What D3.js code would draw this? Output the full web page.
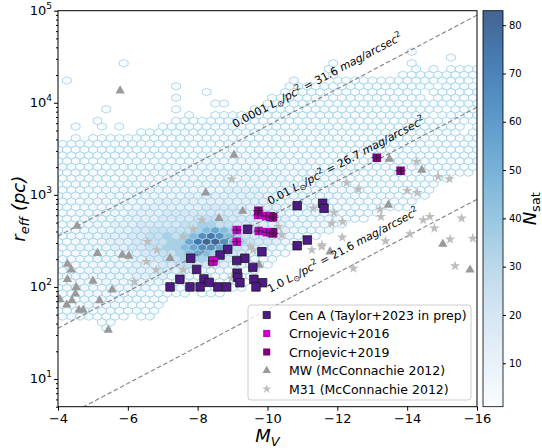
<!DOCTYPE html>
<html>
<head>
<meta charset="UTF-8">
<title>Satellite sizes</title>
<script src="https://d3js.org/d3.v7.min.js"></script>
<style>
body { margin: 0; background: #fff; }
text { font-family: 'DejaVu Sans', sans-serif; fill: #000; }
</style>
</head>
<body>
<script>

// axes
var mvTicks = [-4, -6, -8, -10, -12, -14, -16];
var reffTicks = [10, 100, 1000, 10000, 100000];
var nsatTicks = [10, 20, 30, 40, 50, 60, 70, 80];
var nsatRange = [1, 83];

// observed satellites (M_V, r_eff in pc)
var cenaMv = [-10.85,-11.58,-11.62,-10.09,-9.43,-10.14,-11.14,-10.85,-8.86,-9.84,-8.64,-7.80,-9.35,-9.12,-8.43,-7.97,-9.58,-9.13,-7.49,-8.18,-9.15,-9.61,-8.33,-9.21,-9.86,-7.21,-7.78,-8.07,-8.58,-8.83,-9.67];
var cenaReff = [762,809,714,579,423,388,323,280,256,241,222,205,205,193,191,155,163,141,121,122,127,121,112,111,111,100,100,100,100,100,100];

var crn16Mv = [-9.12,-9.12,-9.73,-9.96,-9.75,-9.98,-8.45];
var crn16Reff = [415,310,604,589,405,392,191];

var crn19Mv = [-9.74,-10.16,-10.16,-13.13,-13.81];
var crn19Reff = [673,570,382,2530,1828];

var mwMv = [-5.78,-9.04,-8.23,-8.61,-9.29,-7.21,-9.76,-11.79,-13.49,-14.42,-13.46,-15.02,-15.80,-4.55,-5.13,-5.84,-6.03,-4.27,-4.38,-4.27,-5.00,-4.52,-5.55,-4.50,-4.05,-4.40,-5.19,-4.25,-4.60,-4.72,-5.44];
var mwReff = [13520,2710,1055,556,667,205,173,241,2450,1862,776,292,153,459,232,222,217,177,153,121,116,99,93,84,73,71,71,64,56,56,34];

var m31Mv = [-14.27,-14.89,-15.21,-12.27,-12.60,-14.00,-14.29,-13.22,-13.25,-12.15,-14.46,-14.65,-15.56,-14.78,-14.08,-12.14,-13.38,-11.56,-15.23,-15.88,-12.46,-8.97,-8.12,-7.87,-7.59,-6.83,-6.81,-7.59,-8.40,-8.97,-9.50,-9.59,-10.31,-10.41,-11.31,-11.90,-11.84,-11.55,-11.27,-6.56,-6.53,-6.18,-15.37];
var m31Reff = [2291,1574,1486,1355,1148,1109,1055,697,579,511,533,579,556,433,376,346,315,285,329,337,159,1476,533,423,351,252,153,153,173,124,274,252,451,366,714,640,491,274,252,310,188,114,169];

var legendLabels = ['Cen A (Taylor+2023 in prep)', 'Crnojevic+2016', 'Crnojevic+2019', 'MW (McConnachie 2012)', 'M31 (McConnachie 2012)'];

// constant surface brightness lines
var sbSigma = [0.0001, 0.01, 1.0];
var sbSigmaText = ['0.0001', '0.01', '1.0'];
var sbMu = ['31.6', '26.7', '21.6'];
var sbLabelMv = [-9.07, -10.07, -10.07];
var sbLabelReff = [5320, 776, 86];

// simulated satellites, hexbin counts
// grid: column step in M_V, row step in log r_eff (rows alternate half a column)
var hexMv0 = -3.881, hexStepMv = 0.25, hexLogR0 = 1.4915, hexStepLogR = 0.125;
var hexLevels = '123456789abcd';
var hexLevelCounts = [1, 2, 4, 7, 12, 18, 25, 35, 45, 55, 65, 75, 83];
// [row, cells from column 0], '.' = empty
var hexRows = [
  [1, '......1'],
  [2, '.....11'],
  [3, '121111211.11'],
  [4, '122222222111'],
  [5, '1222233322111'],
  [6, '1223333332221'],
  [7, '1223333333322211.111'],
  [8, '1223333444433222221111'],
  [9, '12333344444443333222111'],
  [10, '12333444455554443332221'],
  [11, '123334444555665544433221'],
  [12, '1233344445556677665544321'],
  [13, '12333444455667788877655432'],
  [14, '1233444455667789a9876655432'],
  [15, '1234444556677889abba97665432'],
  [16, '123444555667788acddb987665432'],
  [17, '12334455566778789bcb98766554332'],
  [18, '123344455667777789a9877665544332'],
  [19, '1233344555666667788776665554443322'],
  [20, '123334445555666677776665555444433221'],
  [21, '12233344455556666666665555544443333221'],
  [22, '12233334445555555666655555444443333322211'],
  [23, '122233334444555555555555544444433333222111'],
  [24, '1122233334444445555555554444443333322221111'],
  [25, '11222233334444444444555544444333333222221111'],
  [26, '11222223333334444444444444443333332222221111'],
  [27, '1112222223333333444444444443333333222222211111'],
  [28, '111122222223333333344444443333333322222221111111'],
  [29, '1111222222223333333333333333333222222222211111111'],
  [30, '1111122222222222333333333333332222222222221111111'],
  [31, '1111112222222222222233333332222222222222221111111'],
  [32, '1111111222222222222222222222222222222222211111111'],
  [33, '1111111112222222222222222222222222222211111111111'],
  [34, '..1.111111111111122222222222222221111111111111111'],
  [35, '..........1111111111222222222222111111111111111.1'],
  [36, '..1..1.1....11111111111111122222211111111111111.1'],
  [37, '.....1........1111111111111111111111111111111.111'],
  [38, '...............1..1111111111111111111111111.11111'],
  [39, '......1.......1........1111111111111111111111.111'],
  [40, '..................11....1111111111111111111111111'],
  [41, '..............1..........111111111111111111.11111'],
  [42, '.................1........1111111111111111.111111'],
  [43, '..............1............11111111111111111.1111'],
  [44, '.1.........................1....1111111111111111.'],
  [45, '................................1.......111111111'],
  [46, '...............................1.........1.1.1111'],
  [47, '........1.......................1........1.......'],
  [48, '.............................................1...'],
  [49, '.........................................1.......']
];

var width = 542, height = 448;
var pLeft = 58, pRight = 477, pTop = 10.7, pBottom = 406.7;
var cbLeft = 483, cbRight = 503;

var svg = d3.select('body')
  .append('svg')
  .attr('width', width)
  .attr('height', height);

var x = d3.scaleLinear().domain([-4, -16]).range([pLeft, pRight]);
var y = d3.scaleLog().domain([5, 1e5]).range([pBottom, pTop]);
var color = d3.scaleSequential(d3.interpolateBlues).domain(nsatRange);

svg.append('clipPath').attr('id', 'plotclip')
  .append('rect')
  .attr('x', pLeft).attr('y', pTop)
  .attr('width', pRight - pLeft).attr('height', pBottom - pTop);

var plot = svg.append('g').attr('clip-path', 'url(#plotclip)');

// hexbin
var hexCells = [];
hexRows.forEach(function(row) {
  var k = row[0], s = row[1];
  var shift = (k % 2 === 0) ? 0.5 : 0;
  for (var i = 0; i < s.length; i++) {
    var lv = hexLevels.indexOf(s[i]);
    if (lv < 0) continue;
    hexCells.push({
      mv: hexMv0 - (i + shift) * hexStepMv,
      logr: hexLogR0 + k * hexStepLogR / 2,
      n: hexLevelCounts[lv]
    });
  }
});

function hexPath(d) {
  var cx = x(d.mv), cy = y(Math.pow(10, d.logr));
  var sx = x(d.mv - hexStepMv) - cx;
  var sy = cy - y(Math.pow(10, d.logr + hexStepLogR));
  var pts = [[sx / 2, -sy / 6], [sx / 2, sy / 6], [0, sy / 3], [-sx / 2, sy / 6], [-sx / 2, -sy / 6], [0, -sy / 3]];
  return 'M' + pts.map(function(p) { return (cx + p[0]) + ',' + (cy + p[1]); }).join('L') + 'Z';
}

plot.selectAll('path.hex')
  .data(hexCells)
  .enter()
  .append('path')
  .attr('class', 'hex')
  .attr('d', hexPath)
  .attr('fill', function(d) { return color(d.n); })
  .attr('fill-opacity', 0.75)
  .attr('stroke', '#a6d4e8')
  .attr('stroke-width', 0.9);

// surface brightness lines
function sbReff(mv, sigma) {
  return Math.sqrt(Math.pow(10, -0.4 * mv) / (Math.PI * sigma));
}

sbSigma.forEach(function(s) {
  plot.append('line')
    .attr('x1', x(-4)).attr('y1', y(sbReff(-4, s)))
    .attr('x2', x(-16)).attr('y2', y(sbReff(-16, s)))
    .attr('stroke', '#808080')
    .attr('stroke-width', 1.1)
    .attr('stroke-dasharray', '4.5,2.5');
});

var sbAngle = Math.atan2(y(sbReff(-16, 1)) - y(sbReff(-4, 1)), x(-16) - x(-4)) * 180 / Math.PI;

sbSigma.forEach(function(s, i) {
  var t = svg.append('text')
    .attr('transform', 'translate(' + x(sbLabelMv[i]) + ',' + y(sbLabelReff[i]) + ') rotate(' + sbAngle + ')')
    .attr('font-size', 11);
  t.append('tspan').text(sbSigmaText[i] + ' ');
  t.append('tspan').attr('font-style', 'italic').text('L');
  t.append('tspan').attr('font-size', 8).attr('dy', 2.5).text('\u2299');
  t.append('tspan').attr('font-style', 'italic').attr('dy', -2.5).text('/pc');
  t.append('tspan').attr('font-size', 8).attr('dy', -4.5).text('2');
  t.append('tspan').attr('dy', 4.5).text(' = ' + sbMu[i] + ' ');
  t.append('tspan').attr('font-style', 'italic').text('mag/arcsec');
  t.append('tspan').attr('font-size', 8).attr('dy', -4.5).text('2');
});

// markers
var sqr = d3.symbol().type(d3.symbolSquare).size(72)();
var tri = d3.symbol().type(d3.symbolTriangle).size(38)();
var star = d3.symbol().type(d3.symbolStar).size(34)();

function drawPoints(mv, reff, shape, fill, stroke) {
  plot.append('g').selectAll('path')
    .data(d3.zip(mv, reff))
    .enter()
    .append('path')
    .attr('d', shape)
    .attr('transform', function(d) { return 'translate(' + x(d[0]) + ',' + y(d[1]) + ')'; })
    .attr('fill', fill)
    .attr('stroke', stroke || 'none')
    .attr('stroke-width', 0.8);
}

function drawErrors(mv, reff) {
  var g = plot.append('g').attr('stroke', '#222').attr('stroke-width', 0.8);
  d3.zip(mv, reff).forEach(function(d) {
    g.append('line').attr('x1', x(d[0] + 0.15)).attr('x2', x(d[0] - 0.15)).attr('y1', y(d[1])).attr('y2', y(d[1]));
    g.append('line').attr('x1', x(d[0])).attr('x2', x(d[0])).attr('y1', y(d[1] * 1.1)).attr('y2', y(d[1] / 1.1));
  });
}

drawPoints(mwMv, mwReff, tri, '#9a9a9a');
drawPoints(m31Mv, m31Reff, star, '#bdbdbd');
drawPoints(cenaMv, cenaReff, sqr, '#4e1a86', '#1a1a1a');
drawPoints(crn16Mv, crn16Reff, sqr, '#c800c8');
drawErrors(crn16Mv, crn16Reff);
drawPoints(crn19Mv, crn19Reff, sqr, '#800080');
drawErrors(crn19Mv, crn19Reff);

// frame
svg.append('rect')
  .attr('x', pLeft).attr('y', pTop)
  .attr('width', pRight - pLeft).attr('height', pBottom - pTop)
  .attr('fill', 'none').attr('stroke', '#000').attr('stroke-width', 1);

// x axis
var xAxis = svg.append('g')
  .attr('transform', 'translate(0,' + pBottom + ')')
  .call(d3.axisBottom(x).tickValues(mvTicks).tickSize(4).tickPadding(3));
xAxis.select('.domain').remove();
xAxis.selectAll('text').attr('font-size', 13).attr('font-family', 'DejaVu Sans');

// y axis
var yAxis = svg.append('g')
  .attr('transform', 'translate(' + pLeft + ',0)')
  .call(d3.axisLeft(y).tickValues(reffTicks).tickSize(4).tickFormat(''));
yAxis.select('.domain').remove();
svg.append('g')
  .attr('transform', 'translate(' + pLeft + ',0)')
  .call(d3.axisLeft(y).tickValues(y.ticks().filter(function(v) {
      return Math.abs(Math.log10(v) - Math.round(Math.log10(v))) > 1e-6;
    })).tickSize(2).tickFormat(''))
  .select('.domain').remove();

reffTicks.forEach(function(v) {
  var t = svg.append('text')
    .attr('x', pLeft - 6).attr('y', y(v) + 4.5)
    .attr('text-anchor', 'end')
    .attr('font-size', 13);
  t.append('tspan').text('10');
  t.append('tspan').attr('font-size', 9).attr('dy', -6).text(String(Math.round(Math.log10(v))));
});

// axis titles
var yl = svg.append('text')
  .attr('transform', 'translate(25,' + ((pTop + pBottom) / 2) + ') rotate(-90)')
  .attr('text-anchor', 'middle')
  .attr('font-size', 18)
  .attr('font-style', 'italic');
yl.append('tspan').text('r');
yl.append('tspan').attr('font-size', 13).attr('dy', 4).text('eff');
yl.append('tspan').attr('dy', -4).text(' (pc)');

var xl = svg.append('text')
  .attr('x', (pLeft + pRight) / 2).attr('y', 442)
  .attr('text-anchor', 'middle')
  .attr('font-size', 18);
xl.append('tspan').attr('font-style', 'italic').text('M');
xl.append('tspan').attr('font-size', 13).attr('font-style', 'italic').attr('dy', 4).text('V');

// legend
var lg = svg.append('g');
lg.append('rect')
  .attr('x', 248).attr('y', 305).attr('width', 223).attr('height', 95)
  .attr('rx', 3)
  .attr('fill', '#fff').attr('fill-opacity', 0.8)
  .attr('stroke', '#cccccc').attr('stroke-width', 1);

var legendShapes = [
  d3.symbol().type(d3.symbolSquare).size(50)(),
  d3.symbol().type(d3.symbolSquare).size(50)(),
  d3.symbol().type(d3.symbolSquare).size(50)(),
  d3.symbol().type(d3.symbolTriangle).size(30)(),
  d3.symbol().type(d3.symbolStar).size(26)()
];
var legendFill = ['#4e1a86', '#c800c8', '#800080', '#9a9a9a', '#bdbdbd'];
var legendStroke = ['#1a1a1a', 'none', 'none', 'none', 'none'];

legendLabels.forEach(function(lab, i) {
  var ly = 315 + i * 18.5;
  lg.append('path')
    .attr('d', legendShapes[i])
    .attr('transform', 'translate(266.7,' + ly + ')')
    .attr('fill', legendFill[i])
    .attr('stroke', legendStroke[i])
    .attr('stroke-width', 0.8);
  lg.append('text')
    .attr('x', 289).attr('y', ly + 4.5)
    .attr('font-size', 12.5)
    .text(lab);
});

// colorbar
var cb = d3.scaleLinear().domain(nsatRange).range([pBottom, pTop]);
var grad = svg.append('defs').append('linearGradient')
  .attr('id', 'cbgrad')
  .attr('x1', 0).attr('y1', 1).attr('x2', 0).attr('y2', 0);
d3.range(0, 1.0001, 0.05).forEach(function(t) {
  grad.append('stop')
    .attr('offset', t)
    .attr('stop-color', d3.interpolateBlues(t))
    .attr('stop-opacity', 0.75);
});
svg.append('rect')
  .attr('x', cbLeft).attr('y', pTop)
  .attr('width', cbRight - cbLeft).attr('height', pBottom - pTop)
  .attr('fill', 'url(#cbgrad)')
  .attr('stroke', '#000').attr('stroke-width', 0.8);

var cbAxis = svg.append('g')
  .attr('transform', 'translate(' + cbRight + ',0)')
  .call(d3.axisRight(cb).tickValues(nsatTicks).tickSize(3).tickPadding(3));
cbAxis.select('.domain').remove();
cbAxis.selectAll('text').attr('font-size', 10).attr('font-family', 'DejaVu Sans');

var cl = svg.append('text')
  .attr('transform', 'translate(536,' + ((pTop + pBottom) / 2) + ') rotate(-90)')
  .attr('text-anchor', 'middle')
  .attr('font-size', 18);
cl.append('tspan').attr('font-style', 'italic').text('N');
cl.append('tspan').attr('font-size', 13).attr('dy', 4).text('sat');

</script>
</body>
</html>
